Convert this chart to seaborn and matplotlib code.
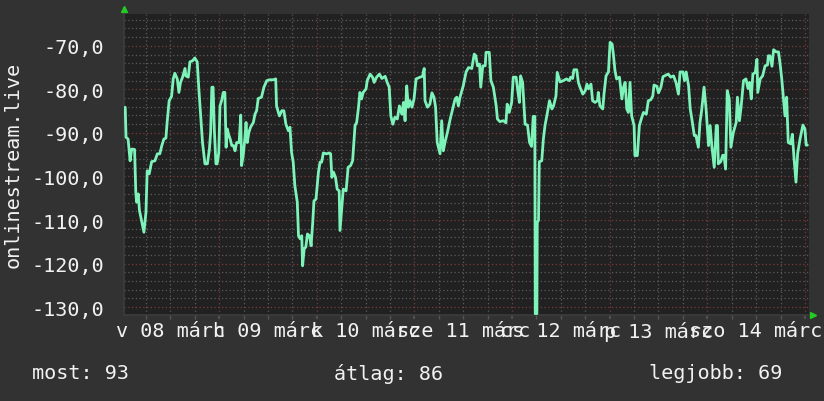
import matplotlib
matplotlib.use('Agg')
import matplotlib.pyplot as plt
import matplotlib.ticker as mticker
import seaborn as sns

# hours since 08 márc 00:00 and the signal level
hours = [0.9, 1.1, 1.6, 2.1, 2.5, 3.2, 3.5, 3.7, 4.1, 4.4, 4.9, 5.5, 6.0, 6.3, 6.8,
         7.4, 8.2, 8.8, 9.4, 9.9, 10.4, 10.9, 11.2, 11.7, 12.3, 12.7, 13.1, 13.7,
         14.1, 14.5, 15.0, 15.6, 15.8, 16.4, 16.8, 17.5, 18.0, 18.6, 19.0, 19.5,
         19.9, 20.5, 21.1, 21.6, 21.9, 22.2, 22.5, 22.8, 23.2, 23.5, 23.9, 24.2,
         24.6, 25.0, 25.4, 25.7, 26.0, 26.3, 26.7, 27.1, 27.5, 27.9, 28.3, 28.9,
         29.3, 29.5, 29.9, 30.3, 30.6, 30.9, 31.3, 31.7, 32.4, 32.8, 33.2, 33.6,
         34.4, 35.0, 35.7, 36.5, 37.3, 37.9, 38.1, 38.8, 39.4, 39.9, 40.4, 41.0,
         41.4, 41.8, 42.2, 42.6, 43.2, 43.5, 43.9, 44.3, 44.5, 44.9, 45.3, 45.7,
         46.2, 46.6, 47.0, 47.3, 47.8, 48.4, 48.8, 49.2, 49.6, 50.4, 51.1, 51.4,
         51.7, 52.1, 52.6, 53.0, 53.5, 53.7, 54.1, 54.5, 55.2, 55.7, 56.3, 56.8,
         57.4, 57.8, 58.2, 58.6, 59.0, 59.4, 60.1, 60.4, 61.1, 61.7, 62.1, 62.7,
         63.4, 64.0, 64.8, 65.3, 65.8, 66.2, 66.7, 67.2, 67.8, 68.3, 68.9, 69.3,
         69.7, 70.1, 70.5, 70.9, 71.4, 71.9, 72.4, 73.4, 74.0, 74.4, 74.6, 75.2,
         75.8, 76.3, 76.8, 77.2, 77.6, 78.3, 78.7, 79.1, 79.5, 80.1, 80.8, 81.4,
         82.0, 82.4, 82.8, 83.2, 84.0, 84.7, 85.3, 86.1, 86.7, 87.1, 87.5, 88.0,
         88.3, 88.8, 89.4, 89.6, 90.4, 90.8, 91.4, 92.1, 92.4, 93.0, 93.9, 94.5,
         94.8, 95.3, 95.9, 96.3, 97.0, 97.3, 97.8, 98.1, 98.6, 99.2, 99.8, 100.3,
         100.8, 101.2, 101.6, 101.7, 102.1, 102.2, 102.5, 102.7, 103.3, 103.7,
         104.1, 104.7, 105.2, 105.8, 106.2, 106.8, 107.1, 107.8, 108.6, 109.4,
         110.1, 110.4, 110.9, 111.2, 111.9, 112.3, 112.7, 113.4, 114.0, 114.4,
         114.8, 115.4, 115.8, 116.4, 117.0, 117.2, 117.6, 118.3, 118.6, 119.1,
         119.7, 120.1, 120.6, 120.9, 121.3, 121.7, 122.4, 123.0, 123.4, 123.8,
         124.2, 124.6, 125.0, 125.4, 126.0, 126.2, 126.8, 127.3, 127.9, 128.3,
         129.0, 129.5, 130.1, 130.6, 130.9, 131.6, 132.0, 132.6, 133.1, 133.9,
         134.4, 135.0, 135.7, 136.3, 136.9, 137.3, 138.0, 138.4, 138.8, 139.4,
         139.8, 140.2, 140.8, 141.2, 141.8, 142.2, 142.6, 143.2, 143.7, 144.3,
         144.7, 145.1, 145.7, 146.2, 146.5, 146.7, 147.3, 147.8, 148.1, 148.5,
         148.9, 149.4, 149.8, 150.4, 151.1, 151.4, 151.9, 152.3, 152.9, 153.5,
         154.0, 154.4, 154.8, 155.2, 155.8, 156.2, 156.4, 157.0, 157.6, 158.2,
         158.8, 159.0, 159.4, 159.9, 160.3, 160.9, 161.5, 161.9, 162.3, 162.7,
         163.1, 163.5, 163.9, 164.5, 164.9, 165.3, 165.8, 166.2, 166.8, 167.5,
         168.0, 168.3, 168.6]
signal = [-84.1, -91.0, -91.4, -96.4, -93.7, -93.8, -103.6, -105.9, -104.0, -107.8,
          -110.1, -112.8, -108.2, -98.7, -99.4, -96.6, -96.4, -94.8, -94.8, -92.9,
          -91.4, -91.2, -87.6, -82.6, -81.6, -77.6, -76.3, -77.6, -80.7, -78.4,
          -77.2, -75.2, -76.9, -77.2, -73.7, -73.4, -72.8, -73.7, -79.9, -86.8,
          -92.2, -97.1, -97.1, -93.7, -89.9, -79.5, -79.5, -89.1, -97.1, -97.1,
          -94.5, -83.8, -82.6, -80.7, -80.7, -93.3, -89.1, -90.3, -91.4, -92.9,
          -92.9, -94.1, -92.2, -92.2, -85.9, -97.5, -95.2, -91.4, -87.6, -92.2,
          -89.9, -88.7, -87.6, -85.7, -84.9, -82.1, -81.8, -79.5, -78.0, -77.8,
          -77.8, -77.6, -83.8, -86.1, -84.9, -84.9, -88.0, -89.5, -88.7, -94.5,
          -96.7, -102.1, -105.9, -113.6, -114.3, -113.6, -120.5, -116.6, -116.2,
          -113.2, -113.6, -115.9, -110.5, -105.6, -105.2, -99.0, -96.7, -96.7,
          -94.6, -94.8, -94.6, -94.8, -100.2, -99.0, -100.2, -102.9, -103.3,
          -112.4, -107.5, -102.9, -103.3, -97.9, -97.5, -96.4, -88.3, -87.6,
          -84.5, -80.7, -82.2, -80.7, -79.9, -78.0, -76.5, -77.2, -78.4, -77.2,
          -76.5, -77.5, -77.0, -78.4, -79.5, -86.1, -88.0, -86.4, -86.8, -83.8,
          -85.7, -83.0, -87.2, -79.2, -84.1, -82.6, -84.1, -82.2, -77.6, -77.2,
          -77.0, -75.2, -82.6, -84.1, -83.4, -80.8, -81.8, -84.1, -92.2, -94.8,
          -87.2, -94.1, -92.2, -89.9, -86.8, -84.5, -82.2, -81.8, -83.8, -81.8,
          -79.2, -76.0, -75.0, -75.2, -71.9, -72.3, -74.6, -74.2, -79.5, -74.6,
          -74.6, -71.5, -71.5, -78.0, -79.5, -83.8, -86.8, -87.4, -87.2, -87.7,
          -83.4, -85.3, -83.0, -77.2, -77.2, -79.5, -83.0, -76.9, -78.4, -88.0,
          -88.2, -92.2, -93.1, -86.2, -86.2, -131.5, -131.5, -110.5, -110.1,
          -96.6, -96.4, -91.4, -88.3, -85.3, -82.6, -84.5, -83.8, -81.5, -76.1,
          -78.3, -78.0, -77.6, -78.0, -77.2, -77.5, -75.5, -75.5, -78.4, -79.5,
          -81.1, -80.3, -78.8, -79.9, -78.8, -82.6, -83.0, -82.6, -80.7, -83.8,
          -84.5, -81.1, -76.9, -76.0, -69.2, -69.6, -71.9, -75.7, -77.6, -77.2,
          -82.2, -79.5, -78.4, -84.5, -85.3, -78.4, -86.1, -88.3, -95.2, -95.2,
          -88.3, -86.4, -85.3, -85.7, -82.6, -82.4, -81.5, -79.0, -79.3, -80.8,
          -79.5, -77.1, -76.7, -76.5, -77.2, -76.9, -78.4, -81.1, -76.0, -76.0,
          -78.0, -76.0, -79.2, -84.5, -86.8, -90.6, -90.6, -93.3, -87.6, -84.9,
          -79.5, -84.5, -92.9, -88.3, -92.9, -97.9, -88.3, -88.3, -97.1, -96.6,
          -95.1, -95.2, -98.3, -80.3, -82.2, -93.3, -89.9, -87.6, -81.8, -87.2,
          -84.1, -78.0, -77.6, -79.8, -78.4, -82.2, -76.5, -76.1, -73.1, -80.7,
          -77.6, -76.9, -74.6, -74.4, -72.3, -72.3, -74.7, -70.9, -71.4, -71.4,
          -74.2, -77.6, -81.8, -86.1, -81.8, -92.2, -92.5, -90.3, -95.6, -101.3,
          -94.8, -91.4, -88.2, -89.1, -92.8, -92.8]

day_labels = ['v 08 márc', 'h 09 márc', 'k 10 márc', 'sze 11 márc',
              'cs 12 márc', 'p 13 márc', 'szo 14 márc']
y_ticks = [-130, -120, -110, -100, -90, -80, -70]
summary_names = ['most', 'átlag', 'legjobb']
summary_values = [93, 86, 69]
y_title = 'onlinestream.live'

bg = '#323232'
canvas = '#212121'
fg = '#f2f2f2'
line_color = '#7df3b9'

sns.set_theme(style='dark', rc={'figure.facecolor': bg, 'axes.facecolor': canvas})
plt.rcParams['font.family'] = ['DejaVu Sans Mono', 'DejaVu Sans']

fig = plt.figure(figsize=(8.24, 4.02), dpi=100)
ax = fig.add_axes([124 / 824, 86 / 402, 685 / 824, 301 / 402])

sns.lineplot(x=hours, y=signal, ax=ax, color=line_color, linewidth=2,
             estimator=None, sort=False, zorder=3)

ax.set_xlim(0.6, 169.0)
ax.set_ylim(-131.8, -62.7)

# grid: dotted grey every 6 h / 2 units, dotted red every day / 10 units
ax.xaxis.set_major_locator(mticker.MultipleLocator(24))
ax.xaxis.set_minor_locator(mticker.MultipleLocator(6))
ax.yaxis.set_major_locator(mticker.FixedLocator(y_ticks))
ax.yaxis.set_minor_locator(mticker.MultipleLocator(2))
ax.grid(which='minor', color='#5c5c5c', linestyle=(0, (1, 2)), linewidth=0.9, zorder=1)
ax.grid(which='major', color='#7a3a3a', linestyle=(0, (1, 2)), linewidth=0.9, zorder=2)
ax.set_axisbelow(True)

ax.set_xticklabels([])
ax.set_yticklabels([f'{v:.1f}'.replace('.', ',') for v in y_ticks])
ax.tick_params(axis='y', which='major', labelsize=14.5, labelcolor=fg, pad=14, length=0)
ax.tick_params(axis='y', which='minor', length=0)
ax.tick_params(axis='x', which='both', direction='out', length=3, color='#555555',
               bottom=True, labelbottom=False)
ax.set_xlabel('')
ax.set_ylabel('')

for side in ['top', 'right']:
    ax.spines[side].set_visible(False)
for side in ['left', 'bottom']:
    ax.spines[side].set_visible(True)
    ax.spines[side].set_color('#3c3c3c')
    ax.spines[side].set_linewidth(1.2)

# day labels, centred on noon of each day
for i, lab in enumerate(day_labels):
    ax.text(12 + 24 * i, -0.053, lab, transform=ax.get_xaxis_transform(),
            ha='center', va='center', fontsize=14.5, color=fg, clip_on=False)

# small green arrows at the ends of the axes
ax.plot([0.0], [1.017], marker='^', color='#22cc22', markersize=5,
        transform=ax.transAxes, clip_on=False)
ax.plot([1.006], [0.0], marker='>', color='#22cc22', markersize=5,
        transform=ax.transAxes, clip_on=False)

fig.text(13 / 824, 1 - 165 / 402, y_title, rotation=90, ha='center', va='center',
         fontsize=14.5, color=fg)

for x_px, name, val in zip([32, 334, 649], summary_names, summary_values):
    fig.text(x_px / 824, 1 - 374 / 402, f'{name}: {val}', ha='left', va='center',
             fontsize=14.5, color=fg)

fig.savefig('out.png', dpi=100, facecolor=bg)
